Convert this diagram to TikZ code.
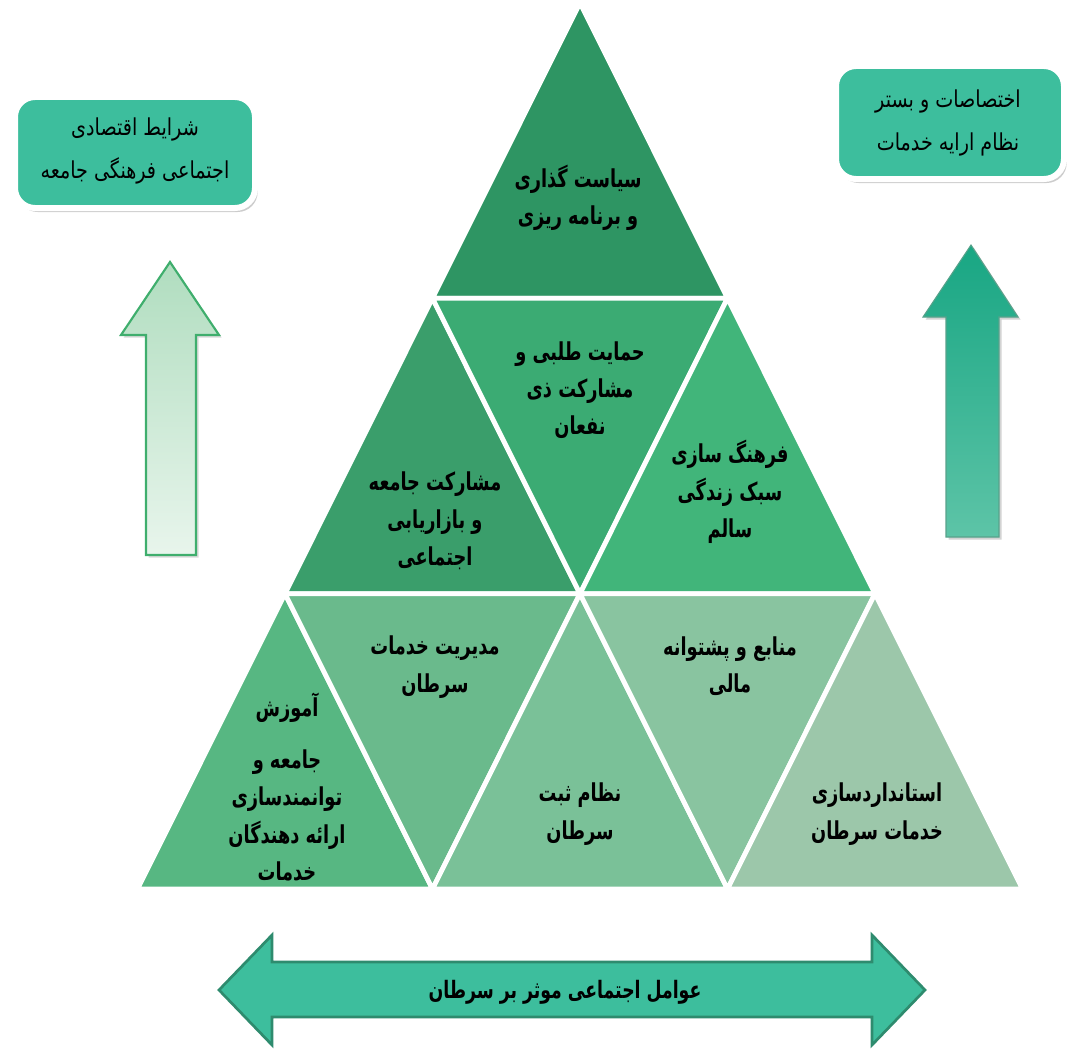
\documentclass[tikz,border=0pt]{standalone}
\usepackage{fontspec}
\usetikzlibrary{shadows,calc}
\TeXXeTstate=1
\newfontfamily\arfont[Script=Arabic, FakeStretch=0.72]{DejaVu Sans}
\newfontfamily\arboxfont[Script=Arabic, FakeStretch=0.82]{DejaVu Sans}
\newcommand\rtl[1]{\beginR #1\endR}

\definecolor{gA}{HTML}{2E9563}
\definecolor{gB}{HTML}{3A9E6B}
\definecolor{gC}{HTML}{3BAB73}
\definecolor{gD}{HTML}{41B57A}
\definecolor{gE}{HTML}{57B782}
\definecolor{gF}{HTML}{6ABA8C}
\definecolor{gG}{HTML}{7AC198}
\definecolor{gH}{HTML}{89C4A0}
\definecolor{gI}{HTML}{9CC7AA}
\definecolor{teal}{HTML}{3DBE9D}
\definecolor{tealdark}{HTML}{2E8B6E}
\definecolor{paleTop}{HTML}{B0DDBF}
\definecolor{paleBot}{HTML}{E8F5EC}
\definecolor{paleEdge}{HTML}{3FAE6D}
\definecolor{upTop}{HTML}{18A683}
\definecolor{upBot}{HTML}{5DC4A7}

\tikzset{
  tri/.style={draw=white, line width=3.6pt, line join=miter},
  lbl/.style={font=\arfont\bfseries\fontsize{18.5}{28}\selectfont, align=center, text=black, inner sep=0pt},
  boxtxt/.style={font=\arboxfont\fontsize{17.5}{32}\selectfont, align=center, text=black, inner sep=0pt},
  infobox/.style={draw=white, line width=4.5pt, fill=teal, rounded corners=15pt,
    drop shadow={shadow xshift=2pt, shadow yshift=-3pt, opacity=0.4}},
}

\begin{document}
\begin{tikzpicture}[x=0.75pt, y=-0.75pt]
\useasboundingbox (0,0) rectangle (1071,1049);

% triangular grid, centre line x = 580
\coordinate (a0) at (580,3);
\coordinate (b0) at (432.5,298.3);  \coordinate (b1) at (727.5,298.3);
\coordinate (c0) at (285,593.7);    \coordinate (c1) at (580,593.7);   \coordinate (c2) at (875,593.7);
\coordinate (d0) at (137.5,889);    \coordinate (d1) at (432.5,889);   \coordinate (d2) at (727.5,889); \coordinate (d3) at (1022.5,889);

% top tier
\filldraw[tri, fill=gA] (a0) -- (b1) -- (b0) -- cycle;
% middle tier
\filldraw[tri, fill=gB] (b0) -- (c1) -- (c0) -- cycle;
\filldraw[tri, fill=gC] (b0) -- (b1) -- (c1) -- cycle;
\filldraw[tri, fill=gD] (b1) -- (c2) -- (c1) -- cycle;
% bottom tier
\filldraw[tri, fill=gE] (c0) -- (d1) -- (d0) -- cycle;
\filldraw[tri, fill=gF] (c0) -- (c1) -- (d1) -- cycle;
\filldraw[tri, fill=gG] (c1) -- (d2) -- (d1) -- cycle;
\filldraw[tri, fill=gH] (c1) -- (c2) -- (d2) -- cycle;
\filldraw[tri, fill=gI] (c2) -- (d3) -- (d2) -- cycle;

% labels of the pyramid
\node[lbl] (t1) at (578,198) {\rtl{سیاست گذاری}\\\rtl{و برنامه ریزی}};
\node[lbl] (t2) at (435,521) {\rtl{مشارکت جامعه}\\\rtl{و بازاریابی}\\\rtl{اجتماعی}};
\node[lbl] (t3) at (580,390) {\rtl{حمایت طلبی و}\\\rtl{مشارکت ذی}\\\rtl{نفعان}};
\node[lbl] (t4) at (730,492) {\rtl{فرهنگ سازی}\\\rtl{سبک زندگی}\\\rtl{سالم}};
\node[lbl] (t5) at (287,787) {\rtl{آموزش}\\[11pt]\rtl{جامعه و}\\\rtl{توانمندسازی}\\\rtl{ارائه دهندگان}\\\rtl{خدمات}};
\node[lbl] (t6) at (435,667) {\rtl{مدیریت خدمات}\\\rtl{سرطان}};
\node[lbl] (t7) at (580,814) {\rtl{نظام ثبت}\\\rtl{سرطان}};
\node[lbl] (t8) at (730,666) {\rtl{منابع و  پشتوانه}\\\rtl{مالی}};
\node[lbl] (t9) at (877,814) {\rtl{استانداردسازی}\\\rtl{خدمات  سرطان}};

% side boxes
\path[infobox] (15,97) rectangle (255,208);
\node[boxtxt] (lbox) at (135,151) {\rtl{شرایط اقتصادی}\\\rtl{اجتماعی فرهنگی جامعه}};
\path[infobox] (836,66) rectangle (1064,179);
\node[boxtxt] (rbox) at (948,123) {\rtl{اختصاصات و بستر}\\\rtl{نظام ارایه خدمات}};

% left upward arrow (pale)
\shade[top color=paleTop, bottom color=paleBot, draw=paleEdge, line width=1.6pt, line join=miter,
  drop shadow={shadow xshift=2pt, shadow yshift=-2pt, opacity=0.3}]
  (170,262) -- (219,335) -- (196,335) -- (196,555) -- (146,555) -- (146,335) -- (121,335) -- cycle;

% right upward arrow (teal)
\shade[top color=upTop, bottom color=upBot, draw=tealdark!80, line width=0.8pt, line join=miter,
  drop shadow={shadow xshift=2pt, shadow yshift=-2pt, opacity=0.35}]
  (971,245) -- (1018,317) -- (999,317) -- (999,537) -- (946,537) -- (946,317) -- (923,317) -- cycle;

% bottom double arrow
\filldraw[fill=teal, draw=tealdark, line width=2pt, line join=miter]
  (219,990) -- (272,935) -- (272,962) -- (872,962) -- (872,935) -- (925,990)
  -- (872,1045) -- (872,1017) -- (272,1017) -- (272,1045) -- cycle;
\node[lbl, font=\arfont\bfseries\fontsize{18}{28}\selectfont] (base) at (565,992) {\rtl{عوامل اجتماعی موثر بر سرطان}};
\end{tikzpicture}
\end{document}
